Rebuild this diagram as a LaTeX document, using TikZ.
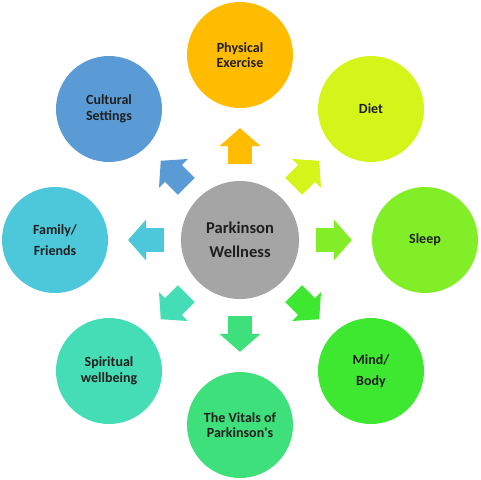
\documentclass[tikz,border=0pt]{standalone}
\usepackage{fontspec}
\setmainfont{Carlito}
\usetikzlibrary{arrows.meta,calc}

\definecolor{hubgray}{HTML}{A5A5A5}
\definecolor{physcol}{HTML}{FFBC00}
\definecolor{dietcol}{HTML}{D4F51A}
\definecolor{sleepcol}{HTML}{82EE28}
\definecolor{mindcol}{HTML}{3EE830}
\definecolor{vitalcol}{HTML}{3DE07A}
\definecolor{spiritcol}{HTML}{45DDB5}
\definecolor{familycol}{HTML}{4CC8DA}
\definecolor{culturecol}{HTML}{5B9BD5}

\tikzset{
  hub/.style={circle,fill=hubgray,minimum size=88.5pt,inner sep=0pt,align=center,
    text=black!88,font=\bfseries\fontsize{12.4}{18}\selectfont},
  spoke/.style={circle,minimum size=79.5pt,inner sep=0pt,align=center,
    text=black!88,font=\bfseries\fontsize{10.5}{11.6}\selectfont},
  push/.style={line width=18pt,-{Triangle[length=13.5pt,width=30pt]}}
}

\begin{document}
\begin{tikzpicture}[x=0.75pt,y=-0.75pt]
  \useasboundingbox (0,0) rectangle (480,480);
  \node[hub] (PW) at (240,240) {Parkinson\\Wellness};
  \node[spoke,fill=physcol] (PE) at (240,55) {Physical\\Exercise};
  \node[spoke,fill=dietcol] (DI) at (371,109) {Diet};
  \node[spoke,fill=sleepcol] (SL) at (425,240) {Sleep};
  \node[spoke,fill=mindcol] (MB) at (371,371) {Mind/\\[4pt]Body};
  \node[spoke,fill=vitalcol] (VP) at (240,425) {The Vitals of\\Parkinson\textquotesingle s};
  \node[spoke,fill=spiritcol] (SW) at (109,371) {Spiritual\\wellbeing};
  \node[spoke,fill=familycol] (FF) at (55,240) {Family/\\[4pt]Friends};
  \node[spoke,fill=culturecol] (CS) at (109,109) {Cultural\\Settings};
  % block arrows from the hub
  \draw[push,physcol] ($(PW)!0.41!(PE)$) -- ($(PW)!0.605!(PE)$);
  \draw[push,dietcol] ($(PW)!0.41!(DI)$) -- ($(PW)!0.605!(DI)$);
  \draw[push,sleepcol] ($(PW)!0.41!(SL)$) -- ($(PW)!0.605!(SL)$);
  \draw[push,mindcol] ($(PW)!0.41!(MB)$) -- ($(PW)!0.605!(MB)$);
  \draw[push,vitalcol] ($(PW)!0.41!(VP)$) -- ($(PW)!0.605!(VP)$);
  \draw[push,spiritcol] ($(PW)!0.41!(SW)$) -- ($(PW)!0.605!(SW)$);
  \draw[push,familycol] ($(PW)!0.41!(FF)$) -- ($(PW)!0.605!(FF)$);
  \draw[push,culturecol] ($(PW)!0.41!(CS)$) -- ($(PW)!0.605!(CS)$);
\end{tikzpicture}
\end{document}
